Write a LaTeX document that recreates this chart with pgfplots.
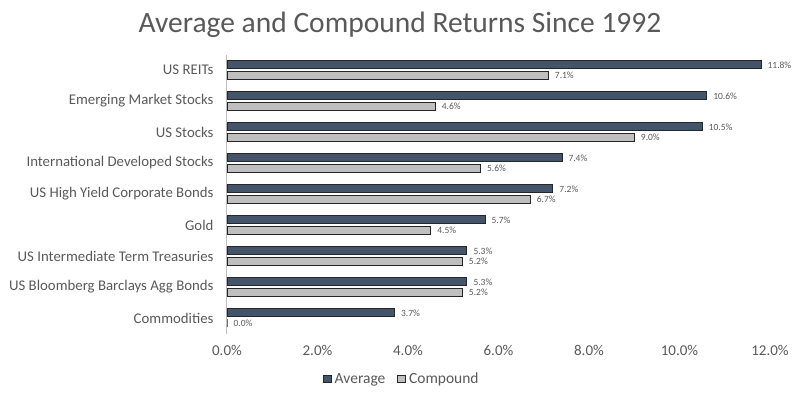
\documentclass[border=0pt]{standalone}
\usepackage{pgfplots}
\pgfplotsset{compat=1.18}
\usepackage{pgfplotstable}
\usepackage{fontspec}
\setmainfont{Carlito}
\definecolor{avgc}{HTML}{44546A}
\definecolor{cmpc}{HTML}{BFBFBF}
\definecolor{txtc}{HTML}{595959}
\definecolor{axc}{HTML}{BFBFBF}
\pgfplotstableread{
y avg cmp
8 11.8 7.1
7 10.6 4.6
6 10.5 9.0
5 7.4 5.6
4 7.2 6.7
3 5.7 4.5
2 5.3 5.2
1 5.3 5.2
0 3.7 0.0
}\datatab
\begin{document}
\begin{tikzpicture}
\useasboundingbox (-227pt,-63.5pt) rectangle (573pt,333.5pt);
\begin{axis}[
  at={(0pt,0pt)}, anchor=south west,
  scale only axis, width=543pt, height=279pt,
  xmin=0, xmax=12, ymin=-0.5, ymax=8.5,
  xtick={0,2,...,12},
  ytick={0,...,8},
  yticklabels={Commodities,US Bloomberg Barclays Agg Bonds,US Intermediate Term Treasuries,Gold,US High Yield Corporate Bonds,International Developed Stocks,US Stocks,Emerging Market Stocks,US REITs},
  /pgf/number format/assume math mode=true,
  xticklabel={\pgfmathprintnumber[fixed,fixed zerofill,precision=1]{\tick}\%},
  xticklabel style={font=\fontsize{15}{17}\selectfont, text=txtc, yshift=-8pt},
  yticklabel style={font=\fontsize{14.8}{17}\selectfont, text=txtc, xshift=-10pt},
  axis lines*=left,
  x axis line style={draw=none},
  y axis line style={axc, line width=1pt, -},
  major tick length=0pt,
  xbar, bar width=8pt,
  nodes near coords={\pgfmathprintnumber[fixed,fixed zerofill,precision=1]{\pgfplotspointmeta}\%},
  nodes near coords align={horizontal},
  nodes near coords style={font=\fontsize{9.5}{10}\selectfont, text=txtc, anchor=west, xshift=3pt},
  point meta=explicit,
  legend style={at={(axis description cs:0.322,-0.163)}, anchor=center, draw=none, legend columns=2,
    font=\fontsize{15.5}{17}\selectfont, text=txtc, /tikz/every even column/.append style={column sep=10pt}},
  legend image code/.code={\draw[#1,line width=0.7pt] (0pt,-3.8pt) rectangle (7.6pt,3.8pt); \path (9pt,0pt);},
  clip=false,
]
\addplot[fill=avgc, draw=black!85, line width=0.7pt, bar shift=5.2pt] table[x=avg, y=y, meta=avg] {\datatab};
\addplot[fill=cmpc, draw=black!85, line width=0.7pt, bar shift=-5.2pt] table[x=cmp, y=y, meta=cmp] {\datatab};
\legend{Average, Compound}
\end{axis}
\node[text=txtc, font=\fontsize{29.5}{34}\selectfont] at (173pt,309pt) {Average and Compound Returns Since 1992};
\end{tikzpicture}
\end{document}
